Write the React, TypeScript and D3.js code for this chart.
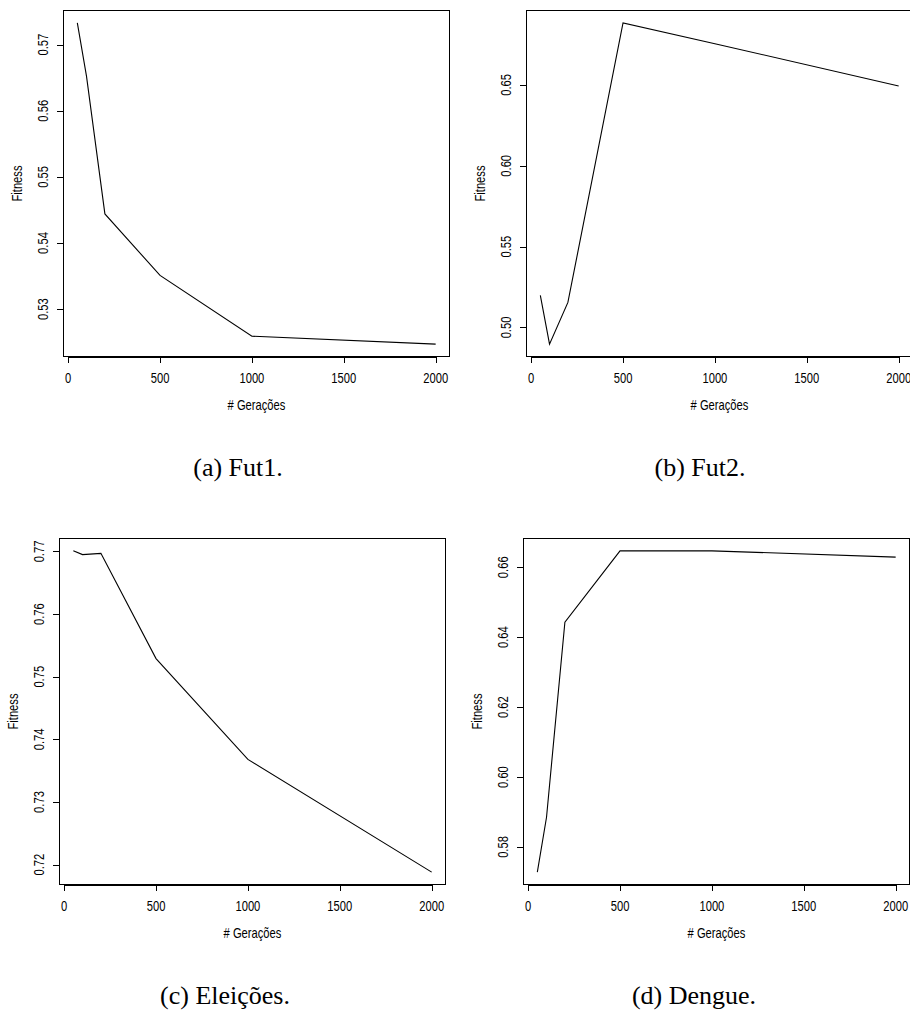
import React from "react";
import * as d3 from "d3";

// number of generations (x) shared by all four runs
const generations = [50, 100, 200, 500, 1000, 2000];

// best fitness per run
const fut1 = [0.5733, 0.5652, 0.5444, 0.5351, 0.5259, 0.5247];
const fut2 = [0.5198, 0.4897, 0.5155, 0.6884, 0.6755, 0.6494];
const eleicoes = [0.7701, 0.7695, 0.7697, 0.7529, 0.7368, 0.7188];
const dengue = [0.5728, 0.5885, 0.6443, 0.6647, 0.6647, 0.6629];

const xTicks = [0, 500, 1000, 1500, 2000];
const fut1Ticks = [0.53, 0.54, 0.55, 0.56, 0.57];
const fut2Ticks = [0.5, 0.55, 0.6, 0.65];
const eleicoesTicks = [0.72, 0.73, 0.74, 0.75, 0.76, 0.77];
const dengueTicks = [0.58, 0.6, 0.62, 0.64, 0.66];

const captions = ["(a) Fut1.", "(b) Fut2.", "(c) Eleições.", "(d) Dengue."];

const W = 910;
const H = 1012;
const boxW = 387;
const boxH = 347;

const axisFont = "'Liberation Sans', Arial, Helvetica, sans-serif";
const captionFont = "'Liberation Serif', 'DejaVu Serif', serif";
const fmt = d3.format(".2f");
// R's bitmap Helvetica looks narrow, squeeze the sans text a bit
const squeeze = "scale(0.8,1)";

// R's default axis style: 4% padding on each side of the data range
const rRange = (vals: number[]) => {
  const [lo, hi] = d3.extent(vals) as [number, number];
  const pad = (hi - lo) * 0.04;
  return [lo - pad, hi + pad];
};

const panels = [
  { values: fut1, ticks: fut1Ticks, left: 63, top: 10, capX: 238, capY: 476 },
  { values: fut2, ticks: fut2Ticks, left: 526, top: 10, capX: 700, capY: 476 },
  { values: eleicoes, ticks: eleicoesTicks, left: 59, top: 538, capX: 225, capY: 1004 },
  { values: dengue, ticks: dengueTicks, left: 523, top: 538, capX: 694, capY: 1004 },
];

type PanelProps = {
  values: number[];
  ticks: number[];
  left: number;
  top: number;
};

const Label = ({ transform, children }: { transform: string; children: React.ReactNode }) => (
  <text
    transform={`${transform} ${squeeze}`}
    dy="0.35em"
    textAnchor="middle"
    fontFamily={axisFont}
    fontSize={14}
    fill="#000"
  >
    {children}
  </text>
);

const Panel = ({ values, ticks, left, top }: PanelProps) => {
  const x = d3.scaleLinear().domain(rRange(generations)).range([0, boxW]);
  const y = d3.scaleLinear().domain(rRange(values)).range([boxH, 0]);
  const line = d3
    .line<number>()
    .x((_, i) => x(generations[i]))
    .y((v) => y(v));

  const tick = 6;
  return (
    <g transform={`translate(${left},${top})`}>
      <rect
        x={0.5}
        y={0.5}
        width={boxW - 1}
        height={boxH - 1}
        fill="none"
        stroke="#000"
        strokeWidth={1}
        shapeRendering="crispEdges"
      />
      <path d={line(values) || ""} fill="none" stroke="#000" strokeWidth={1.1} />

      {/* x axis */}
      <g shapeRendering="crispEdges" stroke="#000">
        <line x1={x(xTicks[0])} x2={x(xTicks[xTicks.length - 1])} y1={boxH} y2={boxH} />
        {xTicks.map((t) => (
          <line key={t} x1={Math.round(x(t)) + 0.5} x2={Math.round(x(t)) + 0.5} y1={boxH} y2={boxH + tick} />
        ))}
      </g>
      {xTicks.map((t) => (
        <Label key={t} transform={`translate(${x(t)},${boxH + 21})`}>
          {t}
        </Label>
      ))}
      <Label transform={`translate(${boxW / 2},${boxH + 48})`}># Gerações</Label>

      {/* y axis */}
      <g shapeRendering="crispEdges" stroke="#000">
        <line x1={0} x2={0} y1={y(ticks[0])} y2={y(ticks[ticks.length - 1])} />
        {ticks.map((t) => (
          <line key={t} x1={-tick} x2={0} y1={Math.round(y(t)) + 0.5} y2={Math.round(y(t)) + 0.5} />
        ))}
      </g>
      {ticks.map((t) => (
        <Label key={t} transform={`translate(-20,${y(t)}) rotate(-90)`}>
          {fmt(t)}
        </Label>
      ))}
      <Label transform={`translate(-46,${boxH / 2}) rotate(-90)`}>Fitness</Label>
    </g>
  );
};

export default function App() {
  return (
    <svg
      width={W}
      height={H}
      viewBox={`0 0 ${W} ${H}`}
      style={{ position: "absolute", left: 0, top: 0, display: "block", background: "#fff" }}
    >
      <rect width={W} height={H} fill="#fff" />
      {panels.map((p, i) => (
        <g key={i}>
          <Panel values={p.values} ticks={p.ticks} left={p.left} top={p.top} />
          <text x={p.capX} y={p.capY} textAnchor="middle" fontFamily={captionFont} fontSize={26}>
            {captions[i]}
          </text>
        </g>
      ))}
    </svg>
  );
}
